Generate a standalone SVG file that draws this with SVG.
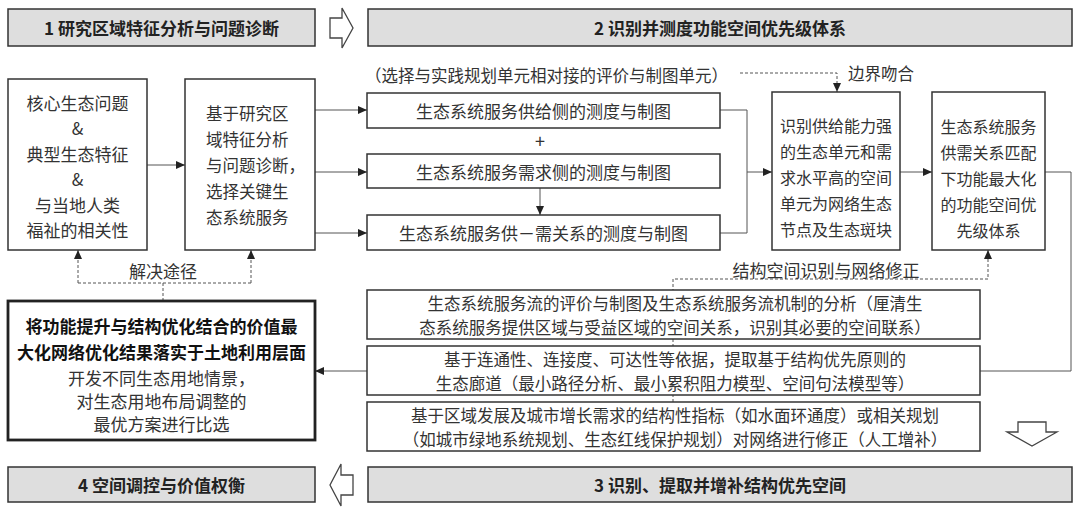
<svg xmlns="http://www.w3.org/2000/svg" width="1080" height="508" viewBox="0 0 1080 508">
<style>
text{font-family:"Noto Sans CJK SC","Noto Sans",sans-serif;fill:#333;dominant-baseline:central}
.hd{fill:#dedede;stroke:#333;stroke-width:1.5}
.ht{font-size:17px;font-weight:bold;fill:#222;text-anchor:middle}
.bx{fill:#fff;stroke:#333;stroke-width:1.5}
.t16{font-size:16px;text-anchor:middle}
.t17{font-size:17px;text-anchor:middle}
.ts{font-size:16.5px;text-anchor:middle}
.ln{fill:none;stroke:#555;stroke-width:1}
.ds{fill:none;stroke:#555;stroke-width:1;stroke-dasharray:3 2}
.ha{fill:#fff;stroke:#444;stroke-width:1.3}
</style>
<defs>
<marker id="ar" markerWidth="9" markerHeight="8" refX="9" refY="4" orient="auto" markerUnits="userSpaceOnUse">
<path d="M0,0 L9,4 L0,8 z" fill="#222"/>
</marker>
</defs>
<rect width="1080" height="508" fill="#fff"/>

<g id="connectors">
<line class="ln" x1="147" y1="165" x2="185" y2="165" marker-end="url(#ar)"/>
<line class="ln" x1="315" y1="110" x2="367" y2="110" marker-end="url(#ar)"/>
<line class="ln" x1="315" y1="172" x2="367" y2="172" marker-end="url(#ar)"/>
<line class="ln" x1="315" y1="233" x2="367" y2="233" marker-end="url(#ar)"/>
<line class="ln" x1="540" y1="188" x2="540" y2="215" marker-end="url(#ar)"/>
<polyline class="ln" points="720,110 747,110 747,233 720,233"/>
<line class="ln" x1="747" y1="172" x2="772" y2="172" marker-end="url(#ar)"/>
<polyline class="ds" points="740,73 837,73 837,92" marker-end="url(#ar)"/>
<line class="ln" x1="900" y1="172" x2="932" y2="172" marker-end="url(#ar)"/>
<polyline class="ln" points="1045,172 1071,172 1071,371 315,371" marker-end="url(#ar)"/>
<polyline class="ds" points="673,402 673,279 988,279 988,250" marker-end="url(#ar)"/>
<polyline class="ds" points="163,301 163,283"/>
<polyline class="ds" points="78,283 78,250" marker-end="url(#ar)"/>
<polyline class="ds" points="251,283 251,250" marker-end="url(#ar)"/>
<line class="ds" x1="78" y1="283" x2="251" y2="283"/>
<text class="t17" x="163" y="270">解决途径</text>
<text class="t17" x="826" y="269">结构空间识别与网络修正</text>
<text style="font-size:16.5px" x="848" y="73">边界吻合</text>
<text style="font-size:16.5px" x="365" y="75">（选择与实践规划单元相对接的评价与制图单元）</text>
<text x="540" y="140" style="font-size:18px;text-anchor:middle">+</text>
</g>

<g id="header1">
<rect class="hd" x="8" y="9" width="307" height="37"/>
<text class="ht" x="161.5" y="27.5">1 研究区域特征分析与问题诊断</text>
</g>
<g id="arrow-right">
<polygon class="ha" points="330,18 342,18 342,8 353,28 342,48 342,38 330,38"/>
</g>
<g id="header2">
<rect class="hd" x="368" y="9" width="704" height="37"/>
<text class="ht" x="720" y="27.5">2 识别并测度功能空间优先级体系</text>
</g>
<g id="header3">
<rect class="hd" x="368" y="467" width="704" height="35"/>
<text class="ht" x="720" y="484.5">3 识别、提取并增补结构优先空间</text>
</g>
<g id="arrow-left">
<polygon class="ha" points="353,475 341,475 341,464 330,485 341,506 341,495 353,495"/>
</g>
<g id="header4">
<rect class="hd" x="8" y="467" width="307" height="35"/>
<text class="ht" x="161.5" y="484.5">4 空间调控与价值权衡</text>
</g>
<g id="arrow-down">
<polygon class="ha" points="1018,422 1046,422 1046,432 1057,432 1032,446 1007,432 1018,432"/>
</g>

<g id="nodeA">
<rect class="bx" x="8" y="79" width="139" height="171"/>
<text class="t17" x="77.5" y="102">核心生态问题</text>
<text class="t17" x="77.5" y="127.5">&amp;</text>
<text class="t17" x="77.5" y="153">典型生态特征</text>
<text class="t17" x="77.5" y="178.5">&amp;</text>
<text class="t17" x="77.5" y="204">与当地人类</text>
<text class="t17" x="77.5" y="229.5">福祉的相关性</text>
</g>
<g id="nodeB">
<rect class="bx" x="185" y="79" width="130" height="171"/>
<text style="font-size:16.5px" x="206" y="113">基于研究区</text>
<text style="font-size:16.5px" x="206" y="139">域特征分析</text>
<text style="font-size:16.5px" x="206" y="165">与问题诊断，</text>
<text style="font-size:16.5px" x="206" y="191">选择关键生</text>
<text style="font-size:16.5px" x="206" y="217">态系统服务</text>
</g>
<g id="supply">
<rect class="bx" x="367" y="93" width="353" height="35"/>
<text class="t17" x="543.5" y="110.5">生态系统服务供给侧的测度与制图</text>
</g>
<g id="demand">
<rect class="bx" x="367" y="154" width="353" height="34"/>
<text class="t17" x="543.5" y="171">生态系统服务需求侧的测度与制图</text>
</g>
<g id="supplydemand">
<rect class="bx" x="367" y="215" width="353" height="35"/>
<text class="t17" x="543.5" y="232.5">生态系统服务供－需关系的测度与制图</text>
</g>
<g id="nodeC">
<rect class="bx" x="772" y="92" width="128" height="158"/>
<text class="t16" x="836" y="125">识别供给能力强</text>
<text class="t16" x="836" y="151">的生态单元和需</text>
<text class="t16" x="836" y="177">求水平高的空间</text>
<text class="t16" x="836" y="203">单元为网络生态</text>
<text class="t16" x="836" y="229">节点及生态斑块</text>
</g>
<g id="nodeD">
<rect class="bx" x="932" y="92" width="113" height="158"/>
<text class="t16" x="988.5" y="126">生态系统服务</text>
<text class="t16" x="988.5" y="152">供需关系匹配</text>
<text class="t16" x="988.5" y="178">下功能最大化</text>
<text class="t16" x="988.5" y="204">的功能空间优</text>
<text class="t16" x="988.5" y="230">先级体系</text>
</g>
<g id="flow">
<rect class="bx" x="367" y="290" width="613" height="49"/>
<text class="ts" x="675" y="302.5">生态系统服务流的评价与制图及生态系统服务流机制的分析（厘清生</text>
<text class="ts" x="675" y="326.5">态系统服务提供区域与受益区域的空间关系，识别其必要的空间联系）</text>
</g>
<g id="corridor">
<rect class="bx" x="367" y="346" width="613" height="49"/>
<text class="ts" x="675" y="358.5">基于连通性、连接度、可达性等依据，提取基于结构优先原则的</text>
<text class="ts" x="675" y="382.5">生态廊道（最小路径分析、最小累积阻力模型、空间句法模型等）</text>
</g>
<g id="revise">
<rect class="bx" x="367" y="402" width="613" height="49"/>
<text class="ts" x="675" y="414.5">基于区域发展及城市增长需求的结构性指标（如水面环通度）或相关规划</text>
<text class="ts" x="675" y="438.5">（如城市绿地系统规划、生态红线保护规划）对网络进行修正（人工增补）</text>
</g>
<g id="nodeE">
<rect x="8" y="301" width="307" height="139" fill="#fff" stroke="#222" stroke-width="2.8"/>
<text class="t17" x="161.5" y="325" style="font-weight:bold;fill:#111">将功能提升与结构优化结合的价值最</text>
<text class="t17" x="161.5" y="351" style="font-weight:bold;fill:#111">大化网络优化结果落实于土地利用层面</text>
<text class="t17" x="161.5" y="377">开发不同生态用地情景，</text>
<text class="t17" x="161.5" y="400">对生态用地布局调整的</text>
<text class="t17" x="161.5" y="423">最优方案进行比选</text>
</g>
</svg>
